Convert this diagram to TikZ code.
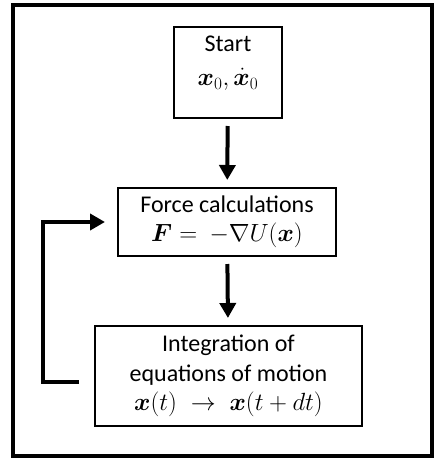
\documentclass[tikz,border=0pt]{standalone}
\usepackage{fontspec}
\setmainfont{Carlito}
\usepackage{amsmath}
\usepackage{bm}
\usetikzlibrary{arrows.meta, positioning}
\tikzset{
  frameline/.style = {line width=4pt, black},
  stepbox/.style   = {draw, line width=2pt, align=center, inner sep=0pt,
                      font=\fontsize{24}{29.5}\selectfont},
  flowarrow/.style = {-{Triangle[length=15pt,width=16pt]}, line width=4pt,
                      shorten <=7pt, shorten >=7pt},
  loopline/.style  = {-{Triangle[length=15pt,width=16pt]}, line width=4pt},
}

\begin{document}
\begin{tikzpicture}[x=1pt, y=-1pt]
  \useasboundingbox (0,0) rectangle (436,461);
  \draw[frameline] (13,5) rectangle (432,456);

  \node[stepbox, minimum width=108pt, minimum height=91pt] (start)
    at (228,72.5) {Start\\[4pt]$\bm{x}_0, \dot{\bm{x}}_0$\\[-6pt]};
  \node[stepbox, minimum width=218pt, minimum height=68pt] (force)
    at (227,222) {Force calculations\\$\bm{F} = \ -\nabla U(\bm{x})$};
  \node[stepbox, minimum width=267pt, minimum height=100pt] (integ)
    at (228.5,376) {Integration of\\equations of motion\\$\bm{x}(t) \;\to\; \bm{x}(t + dt)$};

  \draw[flowarrow] (start) -- (force);
  \draw[flowarrow] (force) -- (integ);

  % feedback loop
  \coordinate (loopstart) at (79,382);
  \coordinate (loopend) at (105,222);
  \draw[loopline] (loopstart) -- (43,382) |- (loopend);
\end{tikzpicture}
\end{document}
